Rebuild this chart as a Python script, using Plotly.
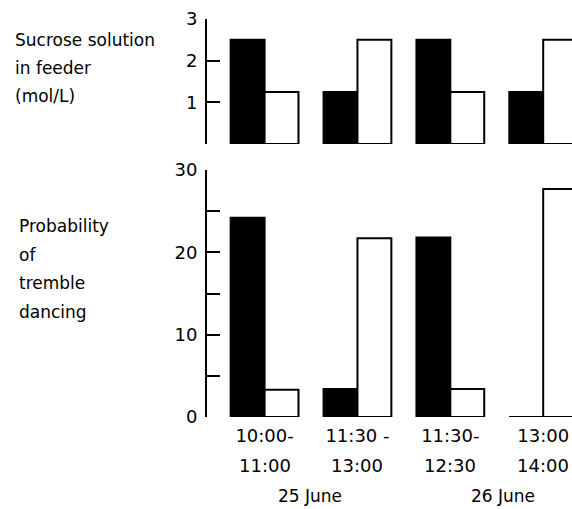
import plotly.graph_objects as go

# ---- data ----
time_start = ["10:00-", "11:30 -", "11:30-", "13:00"]
time_end = ["11:00", "13:00", "12:30", "14:00"]
sucrose_black = [2.5, 1.25, 2.5, 1.25]
sucrose_white = [1.25, 2.5, 1.25, 2.5]
tremble_black = [24.2, 3.4, 21.8, 0]
tremble_white = [3.3, 21.7, 3.4, 27.7]
sucrose_ticks = [0, 1, 2, 3]
sucrose_ticktext = ["", "1", "2", "3"]
tremble_ticks = [0, 5, 10, 15, 20, 25, 30]
tremble_ticktext = ["0", "", "10", "", "20", "", "30"]
date_labels = ["25 June", "26 June"]
panel_labels_top = ["Sucrose solution", "in feeder", "(mol/L)"]
panel_labels_bottom = ["Probability", "of", "tremble", "dancing"]

W, H = 572, 509
FONT = "DejaVu Sans"
BARGAP = 0.27
xs = list(range(len(time_start)))

fig = go.Figure()

def add_pair(black, white, xa, ya):
    fig.add_trace(go.Bar(x=xs, y=black, xaxis=xa, yaxis=ya, marker=dict(color="black", line=dict(color="black", width=2)),
                         offsetgroup="a", cliponaxis=False, showlegend=False, hoverinfo="y"))
    fig.add_trace(go.Bar(x=xs, y=white, xaxis=xa, yaxis=ya, marker=dict(color="white", line=dict(color="black", width=2)),
                         offsetgroup="b", cliponaxis=False, showlegend=False, hoverinfo="y"))

add_pair(sucrose_black, sucrose_white, "x2", "y2")
add_pair(tremble_black, tremble_white, "x", "y")

# zero-height bars drawn as a baseline stroke
bw = (1 - BARGAP) / 2
for i, v in enumerate(tremble_black):
    if v == 0:
        fig.add_shape(type="line", xref="x", yref="y", x0=i - bw, x1=i, y0=0, y1=0,
                      line=dict(color="black", width=2))

def py(px):
    return 1 - px / H

xdom = [207 / W, 1]
xr = [-0.62, 3.31]
TICKFONT = dict(size=18)

fig.update_layout(
    width=W, height=H,
    margin=dict(l=0, r=0, t=0, b=0),
    paper_bgcolor="white", plot_bgcolor="white",
    barmode="group", bargap=BARGAP, bargroupgap=0,
    font=dict(family=FONT, color="black", size=17),
    xaxis=dict(domain=xdom, range=xr, anchor="y", tickmode="array", tickvals=xs, ticktext=time_start,
               showline=False, ticks="", showgrid=False, zeroline=False, tickfont=TICKFONT,
               ticklabelstandoff=6, automargin=False),
    yaxis=dict(domain=[py(417), py(170)], range=[0, 30], tickmode="array", tickvals=tremble_ticks,
               ticktext=tremble_ticktext, ticks="inside", ticklen=13, tickwidth=2, tickcolor="black",
               showline=True, linewidth=2, linecolor="black", showgrid=False, zeroline=False,
               tickfont=TICKFONT, ticklabelstandoff=4, automargin=False, anchor="x"),
    xaxis2=dict(domain=xdom, range=xr, anchor="y2", matches="x", showticklabels=False, ticks="",
                showline=False, showgrid=False, zeroline=False),
    yaxis2=dict(domain=[py(144), py(19)], range=[0, 3], tickmode="array", tickvals=sucrose_ticks,
                ticktext=sucrose_ticktext, ticks="inside", ticklen=13, tickwidth=2, tickcolor="black",
                showline=True, linewidth=2, linecolor="black", showgrid=False, zeroline=False,
                tickfont=TICKFONT, ticklabelstandoff=4, automargin=False, anchor="x2"),
)

# second line of the time labels
for i, t in enumerate(time_end):
    fig.add_annotation(text=t, xref="x", yref="paper", x=i, y=py(465), xanchor="center", yanchor="middle",
                       showarrow=False, font=TICKFONT)

for k, t in enumerate(panel_labels_top):
    fig.add_annotation(text=t, xref="paper", yref="paper", x=13 / W, y=py(40 + 28 * k),
                       xanchor="left", yanchor="middle", showarrow=False, font=dict(size=17))
for k, t in enumerate(panel_labels_bottom):
    fig.add_annotation(text=t, xref="paper", yref="paper", x=17 / W, y=py(226 + 28.5 * k),
                       xanchor="left", yanchor="middle", showarrow=False, font=dict(size=17))
for t, cx in zip(date_labels, [310, 503]):
    fig.add_annotation(text=t, xref="paper", yref="paper", x=cx / W, y=py(496),
                       xanchor="center", yanchor="middle", showarrow=False, font=dict(size=17))

fig.write_html("out.html", config={"displayModeBar": False},
               post_script="document.body.style.margin='0';document.body.style.overflow='hidden';")
